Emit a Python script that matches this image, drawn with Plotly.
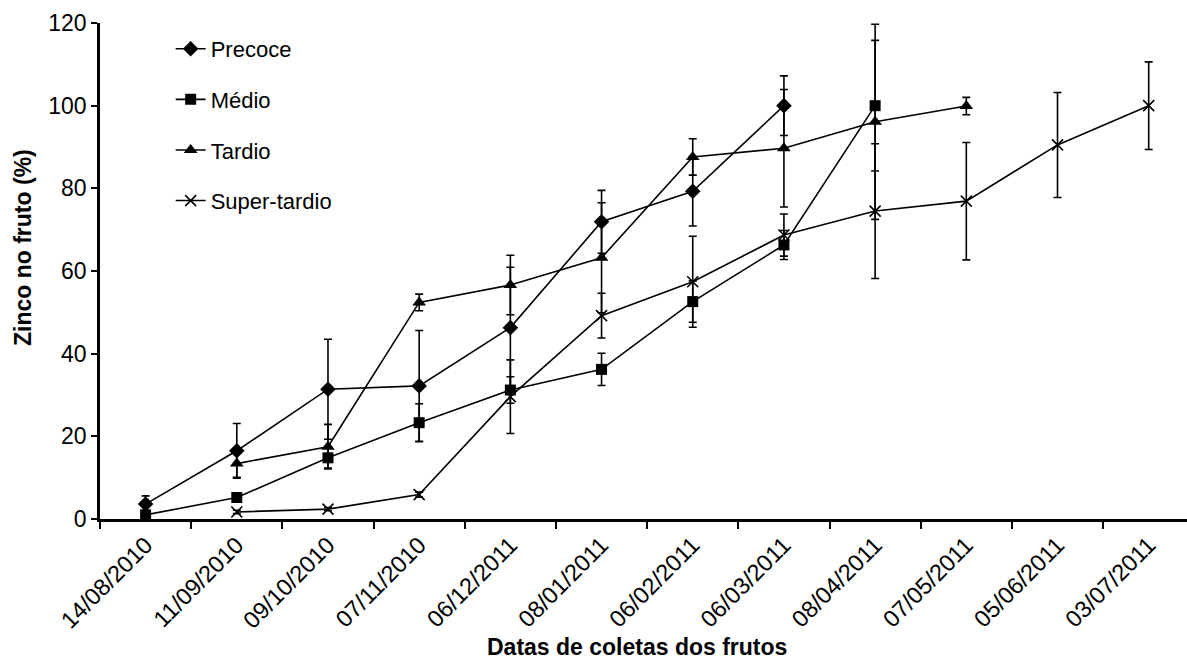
import plotly.graph_objects as go

categories = ["14/08/2010", "11/09/2010", "09/10/2010", "07/11/2010", "06/12/2011",
              "08/01/2011", "06/02/2011", "06/03/2011", "08/04/2011", "07/05/2011",
              "05/06/2011", "03/07/2011"]

precoce_x = categories[0:8]
precoce_y = [3.6, 16.5, 31.4, 32.2, 46.3, 71.9, 79.3, 100.0]
precoce_err = [2.0, 6.6, 12.1, 13.4, 14.6, 7.6, 8.4, 7.2]

medio_x = categories[0:9]
medio_y = [1.0, 5.2, 14.8, 23.3, 31.2, 36.2, 52.6, 66.3, 100.0]
medio_err = [0.6, 0.6, 2.5, 4.6, 3.2, 3.9, 5.0, 3.5, 15.8]

tardio_x = categories[1:10]
tardio_y = [13.4, 17.5, 52.4, 56.6, 63.2, 87.6, 89.7, 96.1, 99.9]
tardio_err = [3.3, 5.4, 2.0, 7.2, 13.3, 4.4, 14.2, 23.6, 2.1]

super_x = categories[1:12]
super_y = [1.7, 2.4, 5.9, 29.6, 49.2, 57.4, 68.7, 74.5, 76.9, 90.5, 100.0]
super_err = [0.4, 0.4, 0.6, 8.9, 5.4, 11.0, 5.1, 16.3, 14.2, 12.7, 10.6]

FONT = "Liberation Sans, Arial, sans-serif"
L, T, B, W, H = 100, 23, 140, 1187, 659
PW, PH = W - L, H - T - B


def px_x(px):
    return (px - L) / PW


def px_y(py):
    return (H - B - py) / PH


series = [
    ("Precoce", precoce_x, precoce_y, precoce_err, "diamond", 12),
    ("Médio", medio_x, medio_y, medio_err, "square", 11),
    ("Tardio", tardio_x, tardio_y, tardio_err, "triangle-up", 12),
    ("Super-tardio", super_x, super_y, super_err, "x-thin", 11),
]

fig = go.Figure()
for i, (name, xs, ys, errs, sym, size) in enumerate(series):
    fig.add_trace(go.Scatter(
        x=xs, y=ys, name=name, mode="lines+markers",
        legendgroup=f"g{i}",
        line=dict(color="black", width=1.6),
        marker=dict(symbol=sym, size=size, color="black",
                    line=dict(color="black", width=1.6 if sym == "x-thin" else 0)),
        error_y=dict(type="data", array=errs, visible=True, color="black",
                     thickness=1.6, width=4),
    ))

fig.update_layout(
    width=W, height=H,
    margin=dict(l=L, r=0, t=T, b=B),
    paper_bgcolor="white", plot_bgcolor="white",
    font=dict(family=FONT, color="black", size=22),
    showlegend=True,
    legend=dict(x=0.065, y=0.99, xanchor="left", yanchor="top",
                bgcolor="rgba(0,0,0,0)", font=dict(size=22, family=FONT),
                tracegroupgap=19, itemwidth=30),
    xaxis=dict(
        type="category", categoryorder="array", categoryarray=categories,
        range=[-0.5, 11.42], tickson="boundaries", ticks="outside", ticklen=7,
        tickwidth=1.5, tickcolor="black",
        showline=True, linecolor="black", linewidth=3, showgrid=False, zeroline=False,
        tickangle=-45, tickfont=dict(size=23.5, family=FONT),
    ),
    yaxis=dict(
        range=[0, 120], tickmode="linear", tick0=0, dtick=20,
        ticks="outside", ticklen=6, tickwidth=1.5, tickcolor="black",
        showline=True, linecolor="black", linewidth=2.5, showgrid=False, zeroline=False,
        tickfont=dict(size=23, family=FONT),
    ),
    annotations=[
        dict(text="<b>Datas de coletas dos frutos</b>", xref="paper", yref="paper",
             x=px_x(636.5), y=px_y(647), xanchor="center", yanchor="middle",
             showarrow=False, font=dict(size=23, family=FONT)),
        dict(text="<b>Zinco no fruto (%)</b>", xref="paper", yref="paper",
             x=px_x(22.5), y=px_y(247.5), xanchor="center", yanchor="middle",
             textangle=-90, showarrow=False, font=dict(size=23, family=FONT)),
    ],
)

fig.write_html("out.html")
